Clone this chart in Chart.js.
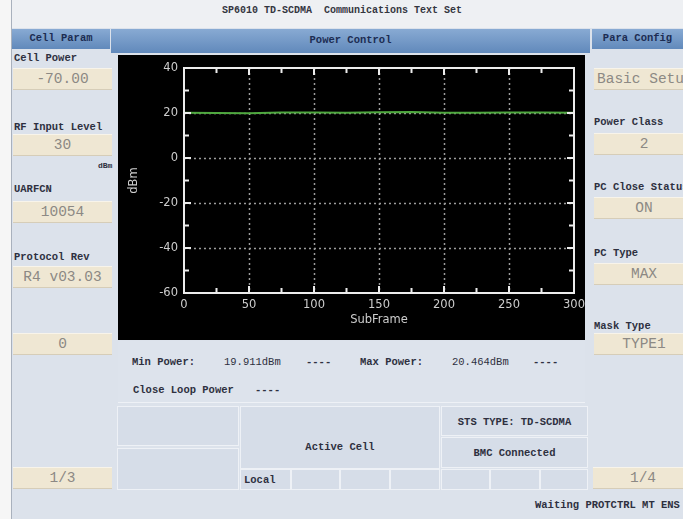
<!DOCTYPE html>
<html>
<head>
<meta charset="utf-8">
<script src="https://cdn.jsdelivr.net/npm/chart.js@4.4.0/dist/chart.umd.min.js"></script>
<style>
  html, body { margin: 0; padding: 0; }
  body {
    width: 683px; height: 519px; overflow: hidden; position: relative;
    background: #dce2eb;
    font-family: "Liberation Mono", "DejaVu Sans Mono", monospace;
  }
  .a { position: absolute; }
  .margin { left: 0; top: 0; width: 11px; height: 519px; background: #f6f6f6; border-right: 1px solid #a9b1bd; }
  .topbar { left: 12px; top: 0; width: 671px; height: 28px; background: #eef0f3; }
  .title { left: 12px; top: 5px; width: 660px; text-align: center; font-size: 10px; font-weight: bold; color: #34363f; white-space: pre; }
  .hdr { background: linear-gradient(#88aad3, #6189bb); color: #1c2c52; font-size: 10.5px; font-weight: bold; text-align: center; white-space: nowrap; }
  .lbl { font-size: 10.5px; font-weight: bold; color: #2e3040; white-space: nowrap; line-height: 12px; }
  .val { background: #efe7d3; color: #8c8984; font-size: 14.5px; text-align: center; white-space: nowrap;
         border-top: 1px solid #f8f4ea; border-bottom: 1px solid #d6cdb8; box-sizing: border-box; line-height: 21px; overflow: hidden; }
  .cell { background: #d6dde8; border: 1px solid #eef1f6; box-sizing: border-box; }
  .ctext { font-size: 10.5px; font-weight: bold; color: #2e3040; text-align: center; white-space: nowrap; }
  #scope { left: 118px; top: 55px; width: 467px; height: 285px; background: #000; }
</style>
</head>
<body>
<div class="a margin"></div>
<div class="a topbar"></div>
<div class="a title">SP6010 TD-SCDMA  Communications Text Set</div>

<!-- header row -->
<div class="a hdr" style="left:12px;top:29px;width:98px;height:20px;line-height:19px;">Cell Param</div>
<div class="a hdr" style="left:111px;top:29px;width:479px;height:24px;line-height:23px;">Power Control</div>
<div class="a hdr" style="left:592px;top:29px;width:91px;height:20px;line-height:19px;">Para Config</div>

<!-- left column: cell parameters -->
<div class="a lbl" style="left:14px;top:52px;">Cell Power</div>
<div class="a val" style="left:13px;top:68px;width:99px;height:22px;">-70.00</div>
<div class="a lbl" style="left:14px;top:121px;">RF Input Level</div>
<div class="a val" style="left:13px;top:134px;width:99px;height:22px;">30</div>
<div class="a lbl" style="left:98px;top:160px;font-size:8px;">dBm</div>
<div class="a lbl" style="left:14px;top:183px;">UARFCN</div>
<div class="a val" style="left:13px;top:201px;width:99px;height:22px;">10054</div>
<div class="a lbl" style="left:14px;top:251px;">Protocol Rev</div>
<div class="a val" style="left:13px;top:266px;width:99px;height:22px;">R4 v03.03</div>
<div class="a val" style="left:13px;top:333px;width:99px;height:22px;">0</div>
<div class="a val" style="left:13px;top:467px;width:99px;height:22px;">1/3</div>

<!-- right column: parameter config -->
<div class="a val" style="left:594px;top:68px;width:100px;height:22px;text-align:left;padding-left:3px;">Basic Setup</div>
<div class="a lbl" style="left:594px;top:116px;">Power Class</div>
<div class="a val" style="left:594px;top:133px;width:100px;height:22px;">2</div>
<div class="a lbl" style="left:594px;top:181px;">PC Close Status</div>
<div class="a val" style="left:594px;top:197px;width:100px;height:22px;">ON</div>
<div class="a lbl" style="left:594px;top:247px;">PC Type</div>
<div class="a val" style="left:594px;top:263px;width:100px;height:22px;">MAX</div>
<div class="a lbl" style="left:594px;top:320px;">Mask Type</div>
<div class="a val" style="left:594px;top:333px;width:100px;height:22px;">TYPE1</div>
<div class="a val" style="left:593px;top:467px;width:100px;height:22px;">1/4</div>

<!-- scope -->
<div class="a" id="scope"><canvas id="pc" width="467" height="285"></canvas></div>

<!-- measurement readout -->
<div class="a" style="left:118px;top:341px;width:467px;height:61px;background:#dde3ec;border-bottom:1px solid #eef1f6;"></div>
<div class="a lbl" style="left:132px;top:356px;">Min Power:</div>
<div class="a lbl" style="left:224px;top:356px;font-weight:normal;" id="minTxt"></div>
<div class="a lbl" style="left:306px;top:356px;">----</div>
<div class="a lbl" style="left:360px;top:356px;">Max Power:</div>
<div class="a lbl" style="left:452px;top:356px;font-weight:normal;" id="maxTxt"></div>
<div class="a lbl" style="left:533px;top:356px;">----</div>
<div class="a lbl" style="left:133px;top:384px;">Close Loop Power</div>
<div class="a lbl" style="left:255px;top:384px;">----</div>

<!-- status blocks -->
<div class="a cell" style="left:117px;top:406px;width:122px;height:40px;"></div>
<div class="a cell" style="left:117px;top:448px;width:122px;height:42px;"></div>
<div class="a cell" style="left:240px;top:406px;width:200px;height:63px;"></div>
<div class="a ctext" style="left:240px;top:441px;width:200px;">Active Cell</div>
<div class="a cell" style="left:240px;top:469px;width:51px;height:21px;"></div>
<div class="a lbl" style="left:244px;top:474px;">Local</div>
<div class="a cell" style="left:291px;top:469px;width:49px;height:21px;"></div>
<div class="a cell" style="left:340px;top:469px;width:50px;height:21px;"></div>
<div class="a cell" style="left:390px;top:469px;width:50px;height:21px;"></div>
<div class="a cell" style="left:441px;top:406px;width:147px;height:30px;"></div>
<div class="a ctext" style="left:441px;top:416px;width:147px;">STS TYPE: TD-SCDMA</div>
<div class="a cell" style="left:441px;top:437px;width:147px;height:31px;"></div>
<div class="a ctext" style="left:441px;top:447px;width:147px;">BMC Connected</div>
<div class="a cell" style="left:441px;top:469px;width:49px;height:21px;"></div>
<div class="a cell" style="left:490px;top:469px;width:50px;height:21px;"></div>
<div class="a cell" style="left:540px;top:469px;width:48px;height:21px;"></div>

<div class="a lbl" style="left:535px;top:499px;">Waiting PROTCTRL MT ENS</div>

<script>
// Measured transmit power per sub-frame (dBm)
const subFrames = [0, 25, 50, 75, 100, 125, 150, 175, 200, 225, 250, 275, 300];
const powerDbm = [20.12, 20.05, 19.911, 20.18, 20.22, 20.10, 20.31, 20.464, 20.15, 20.08, 20.26, 20.19, 20.11];
const minPowerDbm = 19.911;
const maxPowerDbm = 20.464;

// Axis ticks (labelled major ticks and unlabelled minor ticks)
const xTickValues = [0, 50, 100, 150, 200, 250, 300];
const xMinorTicks = [25, 75, 125, 175, 225, 275];
const yTickValues = [-60, -40, -20, 0, 20, 40];
const yMinorTicks = [-50, -30, -10, 10, 30];

document.getElementById('minTxt').textContent = minPowerDbm.toFixed(3) + 'dBm';
document.getElementById('maxTxt').textContent = maxPowerDbm.toFixed(3) + 'dBm';

// Oscilloscope style frame: dotted grid, white border and inward tick marks
const scopeFrame = {
  id: 'scopeFrame',
  beforeDatasetsDraw(chart) {
    const { ctx, chartArea: a, scales: { x, y } } = chart;
    ctx.save();
    ctx.strokeStyle = '#9c9c9c';
    ctx.lineWidth = 1.5;
    ctx.setLineDash([2, 3]);
    xTickValues.slice(1, -1).forEach(v => {
      const px = Math.round(x.getPixelForValue(v)) + 0.5;
      ctx.beginPath(); ctx.moveTo(px, a.top); ctx.lineTo(px, a.bottom); ctx.stroke();
    });
    yTickValues.slice(1, -1).forEach(v => {
      const py = Math.round(y.getPixelForValue(v)) + 0.5;
      ctx.beginPath(); ctx.moveTo(a.left, py); ctx.lineTo(a.right, py); ctx.stroke();
    });
    ctx.restore();
  },
  afterDatasetsDraw(chart) {
    const { ctx, chartArea: a, scales: { x, y } } = chart;
    ctx.save();
    ctx.strokeStyle = '#ececec';
    ctx.lineWidth = 2;
    ctx.strokeRect(a.left, a.top, a.right - a.left, a.bottom - a.top);
    const tick = (list, len) => {
      list.forEach(v => {
        const px = x.getPixelForValue(v);
        ctx.beginPath();
        ctx.moveTo(px, a.bottom); ctx.lineTo(px, a.bottom - len);
        ctx.moveTo(px, a.top); ctx.lineTo(px, a.top + len);
        ctx.stroke();
      });
    };
    const ytick = (list, len) => {
      list.forEach(v => {
        const py = y.getPixelForValue(v);
        ctx.beginPath();
        ctx.moveTo(a.left, py); ctx.lineTo(a.left + len, py);
        ctx.moveTo(a.right, py); ctx.lineTo(a.right - len, py);
        ctx.stroke();
      });
    };
    tick(xTickValues, 7);
    tick(xMinorTicks, 5);
    ytick(yTickValues, 7);
    ytick(yMinorTicks, 5);
    ctx.restore();
  }
};

const labelFont = { family: 'DejaVu Sans', size: 11.5 };

new Chart(document.getElementById('pc'), {
  type: 'line',
  data: {
    datasets: [{
      data: subFrames.map((f, i) => ({ x: f, y: powerDbm[i] })),
      borderColor: '#4fa83f',
      borderWidth: 2,
      pointRadius: 0,
      tension: 0
    }]
  },
  options: {
    responsive: false,
    animation: false,
    events: [],
    layout: { padding: { left: 0, top: 13, right: 11, bottom: 0 } },
    plugins: { legend: { display: false }, tooltip: { enabled: false } },
    scales: {
      x: {
        type: 'linear', min: 0, max: 300,
        grid: { display: false, drawTicks: false },
        border: { display: false },
        afterBuildTicks: s => { s.ticks = xTickValues.map(v => ({ value: v })); },
        afterFit: s => { s.height = 47; s.paddingLeft = 0; s.paddingRight = 0; },
        ticks: { color: '#cdcdcd', font: labelFont, padding: 5, maxRotation: 0, autoSkip: false },
        title: { display: true, text: 'SubFrame', color: '#cdcdcd', font: labelFont, padding: { top: 0, bottom: 13 } }
      },
      y: {
        type: 'linear', min: -60, max: 40,
        grid: { display: false, drawTicks: false },
        border: { display: false },
        afterBuildTicks: s => { s.ticks = yTickValues.map(v => ({ value: v })); },
        afterFit: s => { s.width = 66; s.paddingTop = 0; s.paddingBottom = 0; },
        ticks: { color: '#cdcdcd', font: labelFont, padding: 6, autoSkip: false },
        title: { display: true, text: 'dBm', color: '#cdcdcd', font: labelFont, padding: { top: 9, bottom: 0 } }
      }
    }
  },
  plugins: [scopeFrame]
});
</script>
</body>
</html>
